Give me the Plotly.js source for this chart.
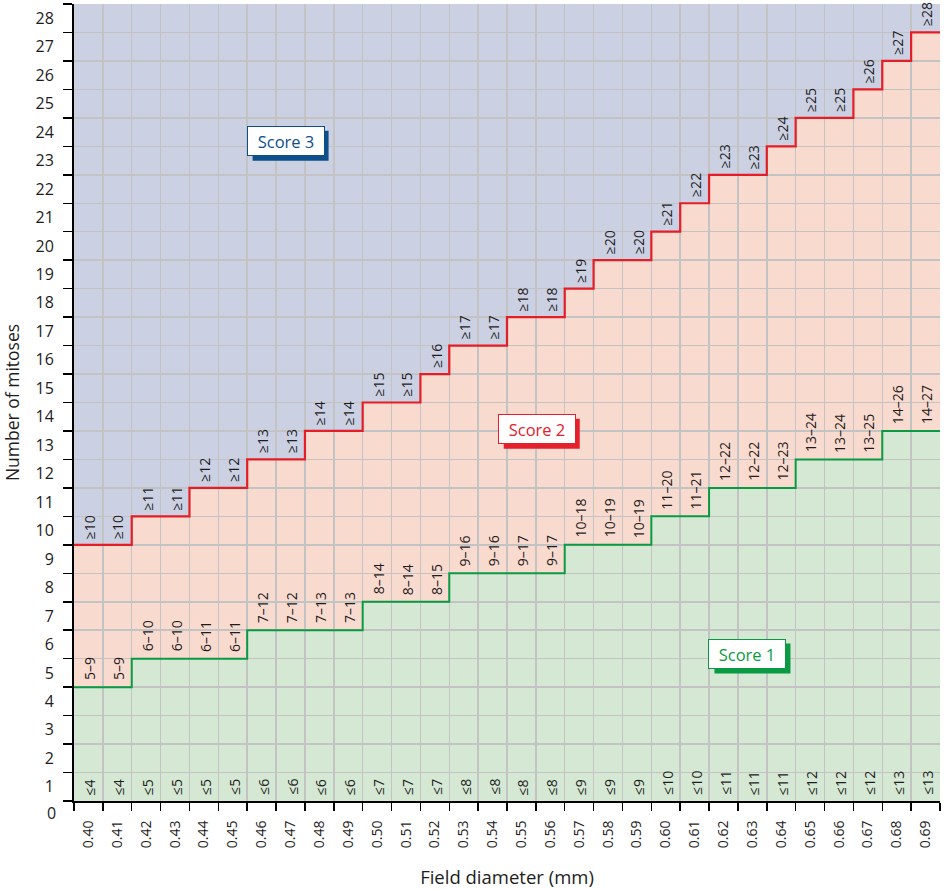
<!DOCTYPE html>
<html><head><meta charset="utf-8">
<script src="https://cdn.plot.ly/plotly-3.0.1.min.js"></script>
<style>html,body{margin:0;padding:0;background:#fff}#chart{width:948px;height:889px}</style>
</head><body><div id="chart"></div>
<script>
const diameters = ['0.40','0.41','0.42','0.43','0.44','0.45','0.46','0.47','0.48','0.49',
  '0.50','0.51','0.52','0.53','0.54','0.55','0.56','0.57','0.58','0.59',
  '0.60','0.61','0.62','0.63','0.64','0.65','0.66','0.67','0.68','0.69'];
const score1Max = [4,4,5,5,5,5,6,6,6,6,7,7,7,8,8,8,8,9,9,9,10,10,11,11,11,12,12,12,13,13];
const score3Min = [10,10,11,11,12,12,13,13,14,14,15,15,16,17,17,18,18,19,20,20,21,22,23,23,24,25,25,26,27,28];
const yTickLabels = ['0','1','2','3','4','5','6','7','8','9','10','11','12','13','14',
  '15','16','17','18','19','20','21','22','23','24','25','26','27','28'];
const scoreBoxes = [
  {text:'Score 3', x:6.83, y:23.7, color:'#0d4f8b'},
  {text:'Score 2', x:15.53, y:13.58, color:'#e3202c'},
  {text:'Score 1', x:22.83, y:5.68, color:'#0a9a43'}
];

const nCols = diameters.length;
const yTop = yTickLabels.length - 0.5;   // 28.5
const yBot = 0.5;
const idx = diameters.map((d,i)=>i);

const COL_GREEN = '#d5e8d4', COL_PINK = '#f9dace', COL_BLUE = '#cbd1e3';
const LINE_RED = '#e31e26', LINE_GREEN = '#0a9a43';
const TXT = '#1e1c1d';
const FONT = 'Open Sans, Noto Sans, DejaVu Sans, sans-serif';

const shapes = [];
idx.forEach(i=>{
  const g = score1Max[i] + 0.5, r = score3Min[i] - 0.5;
  shapes.push({type:'rect', layer:'below', xref:'x', yref:'y', x0:i-0.5, x1:i+0.5, y0:yBot, y1:g, fillcolor:COL_GREEN, line:{width:0}});
  shapes.push({type:'rect', layer:'below', xref:'x', yref:'y', x0:i-0.5, x1:i+0.5, y0:g, y1:r, fillcolor:COL_PINK, line:{width:0}});
  shapes.push({type:'rect', layer:'below', xref:'x', yref:'y', x0:i-0.5, x1:i+0.5, y0:r, y1:yTop, fillcolor:COL_BLUE, line:{width:0}});
});
// drop shadows of the score boxes
scoreBoxes.forEach(b=>{
  shapes.push({type:'rect', layer:'above', xref:'x', yref:'y', xsizemode:'pixel', ysizemode:'pixel',
    xanchor:b.x, yanchor:b.y, x0:-33, x1:43, y0:-20, y1:10, fillcolor:b.color, line:{width:0}});
});

const stepX = idx.map(i=>i-0.5).concat([nCols-0.5]);
const greenY = score1Max.map(v=>v+0.5); greenY.push(greenY[greenY.length-1]);
const redY = score3Min.map(v=>v-0.5); redY.push(redY[redY.length-1]);

const traces = [
  {x:stepX, y:greenY, type:'scatter', mode:'lines', line:{shape:'hv', color:LINE_GREEN, width:2}, hoverinfo:'skip', showlegend:false},
  {x:stepX, y:redY, type:'scatter', mode:'lines', line:{shape:'hv', color:LINE_RED, width:2.2}, hoverinfo:'skip', showlegend:false}
];

const annotations = [];
const labFont = {family:FONT, size:14, color:TXT};
idx.forEach(i=>{
  annotations.push({x:i, y:score3Min[i]-0.5, xref:'x', yref:'y', text:'≥'+score3Min[i], textangle:-90, showarrow:false, xanchor:'center', yanchor:'bottom', yshift:4, xshift:1, font:labFont});
  annotations.push({x:i, y:score1Max[i]+0.5, xref:'x', yref:'y', text:(score1Max[i]+1)+'–'+(score3Min[i]-1), textangle:-90, showarrow:false, xanchor:'center', yanchor:'bottom', yshift:5, xshift:1, font:labFont});
  annotations.push({x:i, y:yBot, xref:'x', yref:'y', text:'≤'+score1Max[i], textangle:-90, showarrow:false, xanchor:'center', yanchor:'bottom', yshift:4, xshift:1, font:labFont});
});
scoreBoxes.forEach(b=>{
  annotations.push({x:b.x, y:b.y, xref:'x', yref:'y', text:b.text, showarrow:false,
    width:72, height:24, borderpad:2, borderwidth:1, bgcolor:'#ffffff', bordercolor:b.color,
    font:{family:FONT, size:16.5, color:b.color}});
});
// label "0" sits below the first row, outside the axis range
annotations.push({x:0, xref:'paper', y:0, yref:'paper', yshift:-12, xshift:-16, text:yTickLabels[0], showarrow:false, xanchor:'right', yanchor:'middle', font:{family:FONT, size:16, color:TXT}});

const xBounds = idx.map(i=>i-0.5).concat([nCols-0.5]);
const yBounds = yTickLabels.map((t,i)=>i+0.5);

const layout = {
  width:948, height:889,
  margin:{l:74, r:8, t:4, b:88},
  paper_bgcolor:'#ffffff', plot_bgcolor:'#ffffff',
  font:{family:FONT, color:TXT},
  showlegend:false,
  xaxis:{range:[-0.5, nCols-0.5], tickmode:'array', tickvals:idx, ticktext:diameters,
    tickangle:-90, ticks:'', ticklabelstandoff:12, showgrid:false,
    minor:{tickmode:'array', tickvals:xBounds, ticks:'outside', ticklen:8, tickwidth:1.5, tickcolor:'#000',
      showgrid:true, gridcolor:'#c3c3c3', gridwidth:1.5},
    showline:true, linecolor:'#000', linewidth:2,
    zeroline:false, fixedrange:true, tickfont:{family:FONT, size:14, color:TXT},
    title:{text:'Field diameter (mm)', font:{family:FONT, size:18.5, color:TXT}, standoff:24}},
  yaxis:{range:[yBot, yTop], tickmode:'array', tickvals:yTickLabels.map((t,i)=>i).slice(1), ticktext:yTickLabels.slice(1),
    ticks:'', ticklabelstandoff:15, showgrid:false,
    minor:{tickmode:'array', tickvals:yBounds, ticks:'outside', ticklen:9, tickwidth:1.5, tickcolor:'#000',
      showgrid:true, gridcolor:'#c3c3c3', gridwidth:1.5},
    showline:true, linecolor:'#000', linewidth:2,
    zeroline:false, fixedrange:true, tickfont:{family:FONT, size:16, color:TXT},
    title:{text:'Number of mitoses', font:{family:FONT, size:17.5, color:TXT}, standoff:13}},
  shapes:shapes,
  annotations:annotations
};

Plotly.newPlot('chart', traces, layout, {displayModeBar:false, staticPlot:true});
</script></body></html>
